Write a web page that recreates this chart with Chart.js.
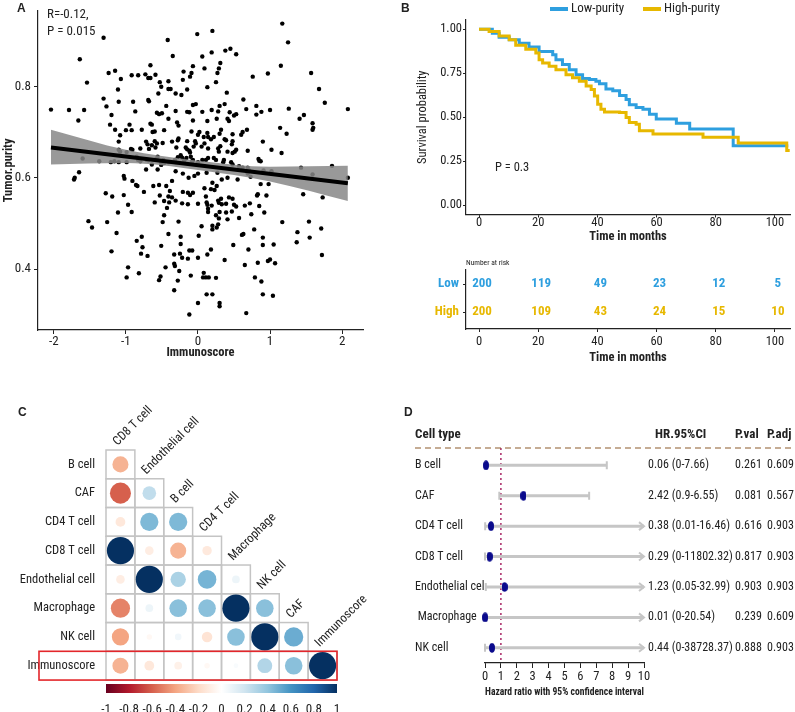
<!DOCTYPE html>
<html>
<head>
<meta charset="utf-8">
<script src="https://cdn.jsdelivr.net/npm/chart.js@4.4.1/dist/chart.umd.min.js"></script>
<style>
  html, body { margin: 0; padding: 0; background: #fff; }
  #wrap { position: relative; width: 795px; height: 712px; overflow: hidden; background: #fff; }
  canvas { position: absolute; }
</style>
</head>
<body>
<div id="wrap">
  <canvas id="panelA" width="380" height="365" style="left:0;top:0;width:380px;height:365px"></canvas>
  <canvas id="panelB" width="395" height="250" style="left:400px;top:0;width:395px;height:250px"></canvas>
  <canvas id="panelRisk" width="395" height="125" style="left:400px;top:255px;width:395px;height:125px"></canvas>
  <canvas id="panelC" width="400" height="332" style="left:0;top:380px;width:400px;height:332px"></canvas>
  <canvas id="panelD" width="395" height="332" style="left:400px;top:380px;width:395px;height:332px"></canvas>
</div>
<script>
// ---- Panel A: immunoscore vs tumor purity ----
const scatterPoints = [
  [1.17,.937],[0.20,.921],[-0.01,.914],[-1.31,.906],[-0.42,.901],[1.25,.896],[0.45,.882],[0.38,.878],[0.19,.874],[0.53,.870],
  [0.06,.865],[-0.35,.866],[-1.64,.859],[0.31,.851],[-0.07,.844],[0.09,.839],[1.15,.845],[-0.66,.846],[0.29,.839],[-1.15,.834],
  [-1.24,.829],[-0.73,.826],[-0.59,.825],[-0.20,.832],[-0.09,.829],[0.27,.829],[1.57,.829],[0.97,.828],[0.76,.821],[-0.92,.824],
  [-0.83,.824],[-1.07,.816],[-0.69,.818],[-0.66,.818],[-0.11,.821],[-1.54,.808],[-0.53,.809],[-0.41,.811],[-0.21,.814],[0.25,.809],
  [0.13,.798],[-0.51,.799],[-0.41,.794],[-0.38,.794],[0.40,.786],[1.68,.794],[-1.11,.793],[-0.15,.793],[-0.31,.784],[-0.55,.784],
  [-0.23,.781],[-1.31,.773],[-0.69,.770],[-0.68,.767],[0.63,.771],[1.76,.764],[-0.90,.766],[-1.10,.766],[-2.04,.749],[-1.79,.748],
  [-1.58,.748],[2.08,.750],[1.26,.751],[-1.27,.756],[-0.44,.757],[-0.07,.759],[-0.03,.761],[0.30,.757],[0.37,.761],[0.81,.757],
  [0.67,.750],[-0.87,.745],[-0.57,.742],[-0.54,.739],[-0.50,.741],[-0.31,.746],[-0.15,.744],[-0.12,.743],[0.06,.744],[0.19,.748],
  [0.28,.745],[0.44,.743],[0.53,.739],[0.88,.744],[1.00,.748],[-1.20,.737],[-1.66,.725],[-0.41,.729],[-0.29,.721],[-0.07,.725],
  [0.13,.724],[0.26,.729],[0.41,.729],[0.43,.724],[0.50,.736],[0.81,.738],[1.41,.729],[1.47,.737],[1.59,.719],[1.60,.709],
  [1.59,.705],[1.14,.709],[-1.22,.716],[-0.95,.716],[-0.66,.718],[-0.64,.716],[-0.47,.704],[-0.63,.700],[-0.60,.701],[-0.92,.704],
  [-1.15,.705],[-0.78,.705],[-1.08,.693],[-1.00,.704],[-0.27,.714],[-0.09,.701],[0.02,.700],[0.00,.694],[0.13,.698],[0.14,.689],
  [0.08,.689],[0.22,.689],[0.30,.696],[0.32,.705],[0.48,.695],[0.62,.700],[0.68,.705],[0.60,.694],[0.90,.679],[0.39,.682],
  [0.37,.684],[0.18,.684],[-0.04,.680],[-0.03,.675],[-0.28,.682],[-0.27,.686],[-0.15,.680],[1.23,.696],[-0.60,.680],[-0.57,.675],
  [-0.64,.671],[-1.10,.679],[-0.70,.673],[-0.72,.679],[-0.49,.676],[-0.36,.679],[0.09,.675],[0.05,.668],[0.31,.669],[0.28,.664],
  [0.48,.680],[0.47,.673],[0.53,.661],[0.51,.657],[0.69,.659],[1.02,.661],[1.16,.654],[-0.91,.661],[-0.93,.663],[-0.80,.664],
  [-0.68,.663],[-0.59,.666],[-0.30,.666],[-0.17,.666],[-0.15,.662],[-0.12,.659],[-0.11,.655],[-0.06,.668],[0.14,.664],[0.29,.657],
  [0.41,.657],[0.48,.654],[-1.60,.642],[-1.37,.636],[-1.16,.636],[-1.10,.634],[-1.21,.634],[-1.10,.661],[-1.08,.657],[-0.99,.656],
  [-0.99,.634],[-0.83,.639],[-0.80,.636],[-0.71,.639],[-0.69,.638],[-0.58,.641],[-0.56,.646],[-0.48,.639],[-0.47,.632],[-0.51,.634],
  [-0.41,.634],[-0.32,.639],[-0.31,.634],[-0.28,.645],[-0.22,.644],[-0.24,.649],[-0.16,.643],[-0.19,.638],[-0.10,.646],[-0.07,.639],
  [-0.08,.636],[0.00,.634],[0.00,.629],[0.06,.639],[0.11,.639],[0.14,.643],[0.22,.643],[0.25,.639],[0.36,.639],[0.35,.634],
  [0.46,.634],[0.48,.629],[0.57,.625],[0.62,.622],[0.69,.622],[0.71,.616],[0.84,.641],[0.85,.637],[0.87,.636],[0.91,.616],
  [1.02,.614],[1.43,.622],[1.86,.626],[2.08,.600],[1.59,.607],[-0.72,.618],[-0.64,.629],[-0.56,.618],[-0.51,.628],[-0.85,.646],
  [-1.71,.600],[-1.72,.596],[-1.65,.612],[-0.86,.584],[-0.84,.582],[-0.62,.582],[-0.44,.582],[-0.36,.593],[-0.31,.614],[-0.21,.609],
  [-0.13,.600],[-0.05,.604],[0.00,.609],[0.12,.611],[0.27,.611],[0.20,.589],[0.26,.582],[0.33,.596],[0.41,.600],[0.55,.596],
  [0.69,.609],[0.73,.602],[0.87,.586],[0.98,.586],[-0.91,.593],[-1.03,.604],[-1.02,.598],[-1.28,.566],[-1.19,.559],[-1.03,.562],
  [-0.75,.569],[-0.54,.584],[-0.39,.571],[-0.21,.569],[-0.07,.567],[-0.14,.567],[-0.11,.562],[0.09,.577],[0.18,.575],[0.23,.573],
  [0.11,.559],[0.12,.546],[0.28,.550],[0.29,.545],[0.32,.554],[0.33,.542],[0.43,.557],[0.48,.554],[0.82,.561],[0.83,.564],
  [0.95,.561],[1.46,.564],[1.73,.557],[-0.53,.561],[-0.41,.559],[-0.36,.557],[-0.31,.550],[-0.47,.549],[-0.40,.546],[-0.60,.546],
  [-0.22,.544],[-0.14,.542],[0.00,.543],[0.13,.541],[0.19,.539],[0.39,.543],[0.50,.541],[0.53,.537],[0.65,.539],[0.72,.544],
  [0.85,.538],[0.74,.520],[0.47,.526],[0.30,.525],[0.39,.524],[0.57,.512],[0.92,.524],[0.25,.518],[0.29,.511],[0.14,.532],
  [0.14,.525],[-0.43,.534],[-0.47,.518],[-0.49,.503],[-0.27,.504],[-0.97,.541],[-1.11,.524],[-0.92,.525],[-1.52,.505],[-1.47,.491],
  [-1.26,.503],[-1.13,.479],[0.05,.494],[0.20,.487],[0.20,.495],[0.26,.491],[0.28,.498],[0.41,.509],[0.61,.475],[0.63,.477],
  [0.78,.487],[1.17,.503],[1.54,.504],[1.38,.481],[1.37,.459],[1.55,.469],[1.71,.489],[-0.41,.477],[0.01,.473],[-0.78,.471],
  [-0.85,.462],[-0.77,.448],[-0.51,.451],[-0.24,.471],[-0.24,.455],[0.49,.453],[0.90,.469],[0.90,.453],[1.05,.454],[-1.20,.439],
  [-0.79,.434],[-0.70,.429],[-0.33,.432],[-0.25,.434],[-0.22,.425],[-0.12,.441],[-0.08,.441],[-0.14,.423],[0.00,.425],[0.18,.443],
  [0.13,.432],[0.70,.443],[0.37,.420],[0.83,.414],[0.97,.418],[1.00,.421],[1.07,.413],[1.72,.431],[-0.45,.404],[-0.97,.404],
  [-0.99,.382],[-0.82,.391],[-0.33,.412],[-0.32,.407],[-0.26,.396],[-0.10,.386],[0.08,.392],[0.07,.382],[0.11,.382],[0.15,.382],
  [0.25,.381],[0.65,.409],[0.79,.382],[0.88,.373],[-0.52,.384],[-0.54,.376],[-0.28,.375],[-0.33,.354],[0.12,.345],[0.20,.345],
  [0.90,.345],[1.04,.342],[0.00,.326],[0.30,.326],[0.30,.319],[-0.12,.301],[0.67,.304]
];
const fitX = [-2.04, 2.08];
const fitY = [0.666, 0.588];
const bandX = [-2.04, -1, 0, 1, 2.08];
const bandLow = [0.629, 0.632, 0.617, 0.592, 0.549];
const bandHigh = [0.705, 0.661, 0.637, 0.624, 0.626];
const ticksA_x = [-2, -1, 0, 1, 2];
const ticksA_y = [0.4, 0.6, 0.8];

// ---- Panel B: Kaplan-Meier ----
const lowTimes = [0, 4.5, 6.8, 10.2, 13.6, 16.9, 20.3, 24.9, 26.0, 28.2, 30.5, 32.8, 35.0, 37.3, 39.5, 40.7, 42.9, 45.2, 47.5, 49.7, 50.8, 53.1, 55.4, 57.6, 59.9, 66.7, 71.2, 85.9, 104.5];
const lowSurv = [1.0, 0.977, 0.955, 0.94, 0.92, 0.90, 0.874, 0.855, 0.827, 0.80, 0.77, 0.742, 0.72, 0.714, 0.705, 0.69, 0.66, 0.65, 0.624, 0.60, 0.57, 0.555, 0.545, 0.517, 0.49, 0.465, 0.432, 0.338, 0.338];
const highTimes = [0, 3.4, 6.8, 10.2, 12.4, 15.8, 19.2, 20.3, 21.5, 23.7, 26.0, 29.4, 31.6, 33.9, 36.2, 37.9, 39.0, 40.1, 41.2, 42.4, 47.5, 49.7, 50.8, 53.1, 54.2, 58.8, 75.7, 87.6, 104.0, 105.0];
const highSurv = [1.0, 0.987, 0.962, 0.94, 0.91, 0.887, 0.865, 0.827, 0.808, 0.79, 0.77, 0.742, 0.724, 0.705, 0.677, 0.658, 0.62, 0.573, 0.545, 0.53, 0.526, 0.498, 0.47, 0.46, 0.423, 0.404, 0.385, 0.353, 0.31, 0.31];
const groupNames = ['Low-purity', 'High-purity'];
const groupColors = ['#2E9FDF', '#E7B800'];
const timeTicks = [0, 20, 40, 60, 80, 100];
const survTicks = [0, 0.25, 0.5, 0.75, 1];
const riskRows = ['Low', 'High'];
const lowRisk = [200, 119, 49, 23, 12, 5];
const highRisk = [200, 109, 43, 24, 15, 10];

// ---- Panel C: correlation matrix (lower triangle) ----
const rowLabels = ['B cell', 'CAF', 'CD4 T cell', 'CD8 T cell', 'Endothelial cell', 'Macrophage', 'NK cell', 'Immunoscore'];
const colLabels = ['CD8 T cell', 'Endothelial cell', 'B cell', 'CD4 T cell', 'Macrophage', 'NK cell', 'CAF', 'Immunoscore'];
const corrRows = [
  [-0.35],
  [-0.6, 0.25],
  [-0.13, 0.45, 0.45],
  [1, -0.10, -0.35, -0.12],
  [-0.10, 1, 0.32, 0.47, 0.08],
  [-0.50, 0.08, 0.42, 0.42, 1, 0.42],
  [-0.40, -0.04, 0.06, -0.15, 0.42, 1, 0.50],
  [-0.35, -0.13, -0.08, -0.04, 0.03, 0.30, 0.42, 1]
];
const colorbarTicks = [-1, -0.8, -0.6, -0.4, -0.2, 0, 0.2, 0.4, 0.6, 0.8, 1];
const rdbuStops = ['#67001F', '#B2182B', '#D6604D', '#F4A582', '#FDDBC7', '#FFFFFF', '#D1E5F0', '#92C5DE', '#4393C3', '#2166AC', '#053061'];

// ---- Panel D: forest plot ----
const cellTypes = ['B cell', 'CAF', 'CD4 T cell', 'CD8 T cell', 'Endothelial cell', ' Macrophage', 'NK cell'];
const hr = [0.06, 2.42, 0.38, 0.29, 1.23, 0.01, 0.44];
const ciLow = [0, 0.9, 0.01, 0, 0.05, 0, 0];
const ciHigh = [7.66, 6.55, 16.46, 11802.32, 32.99, 20.54, 38728.37];
const pVal = ['0.261', '0.081', '0.616', '0.817', '0.903', '0.239', '0.888'];
const pAdj = ['0.609', '0.567', '0.903', '0.903', '0.903', '0.609', '0.903'];
const hrTicks = [0, 1, 2, 3, 4, 5, 6, 7, 8, 9, 10];
const hrMax = 10;

// pick a condensed face if one is installed, otherwise shrink a regular one
function pickFont() {
  const c = document.createElement('canvas').getContext('2d');
  const sample = 'Endothelial cell 0.1234567890';
  const w = f => { c.font = f; return c.measureText(sample).width; };
  const base = w('12px monospace');
  const named = ['Liberation Sans Narrow', 'Arial Narrow', 'Nimbus Sans Narrow', 'Roboto Condensed', 'Noto Sans Condensed', 'Open Sans Condensed', 'DejaVu Sans Condensed'];
  for (const n of named) {
    if (Math.abs(w(`12px "${n}", monospace`) - base) > 0.5) return { family: `"${n}", "Liberation Sans", sans-serif`, stretch: '', scale: n.startsWith('DejaVu') ? 0.92 : 1 };
  }
  for (const n of ['Liberation Sans', 'Noto Sans', 'Open Sans']) {
    const plain = w(`12px "${n}", monospace`);
    const cond = w(`condensed 12px "${n}", monospace`);
    if (cond < plain * 0.9) return { family: `"${n}", sans-serif`, stretch: 'condensed', scale: n === 'Liberation Sans' ? 1 : 0.95 };
  }
  return { family: '"Liberation Sans", Arial, sans-serif', stretch: '', scale: 0.84 };
}
const FONT = pickFont();
const F = (size, bold) => {
  const weight = [FONT.stretch, bold ? 'bold' : ''].filter(Boolean).join(' ');
  return weight ? { size: size * FONT.scale, weight } : { size: size * FONT.scale };
};
const LETTER_FONT = '"Liberation Sans", Arial, sans-serif';
const INK = '#222';
Chart.defaults.font.family = FONT.family;
Chart.defaults.color = INK;
Chart.defaults.animation = false;
Chart.defaults.responsive = false;
Chart.defaults.plugins.legend.display = false;
Chart.defaults.plugins.tooltip.enabled = false;

function fixTicks(values) {
  return scale => { scale.ticks = values.map(v => ({ value: v })); };
}

function drawText(ctx, str, x, y, o = {}) {
  const f = o.family ? { size: o.size || 12, weight: o.weight } : F(o.size || 12, o.weight === 'bold');
  ctx.save();
  ctx.font = `${f.weight || 'normal'} ${f.size}px ${o.family || FONT.family}`;
  ctx.fillStyle = o.color || INK;
  ctx.textAlign = o.align || 'left';
  ctx.textBaseline = o.baseline || 'middle';
  if (o.rotate) {
    ctx.translate(x, y);
    ctx.rotate(o.rotate);
    ctx.fillText(str, 0, 0);
  } else {
    ctx.fillText(str, x, y);
  }
  ctx.restore();
}

function hexToRgb(h) {
  return [1, 3, 5].map(i => parseInt(h.slice(i, i + 2), 16));
}
function rdbu(v) {
  const t = (v + 1) / 2 * (rdbuStops.length - 1);
  const i = Math.max(0, Math.min(Math.floor(t), rdbuStops.length - 2));
  const f = t - i;
  const a = hexToRgb(rdbuStops[i]), b = hexToRgb(rdbuStops[i + 1]);
  const c = a.map((x, k) => Math.round(x + (b[k] - x) * f));
  return `rgb(${c[0]},${c[1]},${c[2]})`;
}

const axisLine = { display: true, color: INK, width: 1.2 };
const tickMarks = (len) => ({ display: true, drawOnChartArea: false, drawTicks: true, tickLength: len, color: INK, lineWidth: 1 });
const flatTicks = { maxRotation: 0, minRotation: 0, autoSkip: false };

// ================= Panel A =================
new Chart(document.getElementById('panelA'), {
  type: 'scatter',
  data: {
    datasets: [
      {
        type: 'line', order: 0,
        data: fitX.map((x, i) => ({ x, y: fitY[i] })),
        borderColor: '#000', borderWidth: 4, pointRadius: 0
      },
      {
        type: 'line', order: 1,
        data: bandX.map((x, i) => ({ x, y: bandHigh[i] })),
        borderColor: 'transparent', borderWidth: 0, pointRadius: 0,
        cubicInterpolationMode: 'monotone',
        fill: '+1', backgroundColor: 'rgba(135,135,135,0.85)'
      },
      {
        type: 'line', order: 2,
        data: bandX.map((x, i) => ({ x, y: bandLow[i] })),
        borderColor: 'transparent', borderWidth: 0, pointRadius: 0,
        cubicInterpolationMode: 'monotone', fill: false
      },
      {
        order: 3,
        data: scatterPoints.map(([x, y]) => ({ x, y })),
        pointRadius: 2.2, backgroundColor: '#000', borderWidth: 0
      }
    ]
  },
  options: {
    layout: { padding: { top: 3, right: 17, left: 0, bottom: 0 } },
    scales: {
      x: {
        type: 'linear', min: -2.22, max: 2.29,
        afterBuildTicks: fixTicks(ticksA_x),
        afterFit: s => { s.height = 35; },
        ticks: { ...flatTicks, font: F(13), padding: 0, color: INK },
        grid: tickMarks(4), border: axisLine,
        title: { display: true, text: 'Immunoscore', font: F(12.5, true), padding: { top: 0, bottom: 5 }, color: INK }
      },
      y: {
        type: 'linear', min: 0.267, max: 0.965,
        afterBuildTicks: fixTicks(ticksA_y),
        afterFit: s => { s.width = 38; },
        ticks: { ...flatTicks, font: F(13), padding: 3, color: INK },
        grid: tickMarks(4), border: axisLine,
        title: { display: true, text: 'Tumor.purity', font: F(12.5, true), padding: { top: 1, bottom: 0 }, color: INK }
      }
    }
  },
  plugins: [{
    id: 'annotA',
    afterDraw(chart) {
      const ctx = chart.ctx;
      drawText(ctx, 'A', 17, 9, { weight: 'bold', size: 12, family: LETTER_FONT });
      drawText(ctx, 'R=-0.12,', 47, 15, { size: 13 });
      drawText(ctx, 'P = 0.015', 47, 32, { size: 13 });
    }
  }]
});

// ================= Panel B (survival curves) =================
new Chart(document.getElementById('panelB'), {
  type: 'line',
  data: {
    datasets: [
      {
        label: groupNames[1],
        data: highTimes.map((t, i) => ({ x: t, y: highSurv[i] })),
        borderColor: groupColors[1], borderWidth: 3, pointRadius: 0, stepped: true
      },
      {
        label: groupNames[0],
        data: lowTimes.map((t, i) => ({ x: t, y: lowSurv[i] })),
        borderColor: groupColors[0], borderWidth: 3, pointRadius: 0, stepped: true
      }
    ]
  },
  options: {
    layout: { padding: { top: 20, right: 5, left: 0, bottom: 0 } },
    scales: {
      x: {
        type: 'linear', min: -4.4, max: 105.1,
        afterBuildTicks: fixTicks(timeTicks),
        afterFit: s => { s.height = 35.5; },
        ticks: { ...flatTicks, font: F(12.5), padding: -2, color: INK },
        grid: tickMarks(3), border: axisLine,
        title: { display: true, text: 'Time in months', font: F(12.5, true), padding: { top: 0, bottom: 6 }, color: INK }
      },
      y: {
        type: 'linear', min: -0.054, max: 1.053,
        afterBuildTicks: fixTicks(survTicks),
        afterFit: s => { s.width = 66; },
        ticks: { ...flatTicks, font: F(12.5), padding: 1, color: INK, callback: v => Number(v).toFixed(2) },
        grid: tickMarks(3), border: axisLine,
        title: { display: true, text: 'Survival probability', font: F(12.5), padding: { top: 15, bottom: 0 }, color: INK }
      }
    }
  },
  plugins: [{
    id: 'annotB',
    afterDraw(chart) {
      const ctx = chart.ctx;
      drawText(ctx, 'B', 1, 9, { weight: 'bold', size: 12, family: LETTER_FONT });
      // legend built from the group names / colours
      const legendX = [150, 243];
      groupNames.forEach((name, i) => {
        ctx.save();
        ctx.strokeStyle = groupColors[i];
        ctx.lineWidth = 4;
        ctx.beginPath();
        ctx.moveTo(legendX[i], 9);
        ctx.lineTo(legendX[i] + 18, 9);
        ctx.stroke();
        ctx.restore();
        drawText(ctx, name, legendX[i] + 21, 9, { size: 13 });
      });
      drawText(ctx, 'P = 0.3', 95, 168, { size: 12.5 });
    }
  }]
});

// ================= Panel B (number at risk) =================
new Chart(document.getElementById('panelRisk'), {
  type: 'scatter',
  data: {
    datasets: [
      { data: timeTicks.map((t, i) => ({ x: t, y: 1, n: lowRisk[i] })), pointRadius: 0 },
      { data: timeTicks.map((t, i) => ({ x: t, y: 2, n: highRisk[i] })), pointRadius: 0 }
    ]
  },
  options: {
    layout: { padding: { top: 15, right: 5, left: 0, bottom: 0 } },
    scales: {
      x: {
        type: 'linear', min: -4.4, max: 105.1,
        afterBuildTicks: fixTicks(timeTicks),
        afterFit: s => { s.height = 51; },
        ticks: { ...flatTicks, font: F(12.5), padding: 2, color: INK },
        grid: tickMarks(3), border: axisLine,
        title: { display: true, text: 'Time in months', font: F(12.5, true), padding: { top: 0, bottom: 15 }, color: INK }
      },
      y: {
        type: 'linear', min: 0.5, max: 2.6, reverse: true,
        afterBuildTicks: fixTicks([1, 2]),
        afterFit: s => { s.width = 66; },
        ticks: {
          ...flatTicks,
          font: F(13, true), padding: 4,
          color: c => groupColors[c.index] || INK,
          callback: v => riskRows[v - 1]
        },
        grid: tickMarks(3), border: axisLine
      }
    }
  },
  plugins: [{
    id: 'riskText',
    afterDatasetsDraw(chart) {
      const ctx = chart.ctx;
      chart.data.datasets.forEach((ds, d) => {
        chart.getDatasetMeta(d).data.forEach((el, i) => {
          drawText(ctx, String(ds.data[i].n), el.x + 3, el.y, { size: 13, weight: 'bold', color: groupColors[d], align: 'center' });
        });
      });
      drawText(ctx, 'Number at risk', 66, 8, { size: 7.5 });
    }
  }]
});

// ================= Panel C =================
const corrPoints = corrRows.flatMap((row, r) => row.map((v, c) => ({ x: c + 0.5, y: r + 0.5, v })));

new Chart(document.getElementById('panelC'), {
  type: 'scatter',
  data: {
    datasets: [{
      data: corrPoints,
      borderWidth: 0,
      pointBorderWidth: 0,
      pointBackgroundColor: c => (c.raw ? rdbu(c.raw.v) : '#ccc'),
      pointRadius: c => {
        if (!c.raw) return 0;
        const s = c.chart.scales.x;
        const cell = s.getPixelForValue(1) - s.getPixelForValue(0);
        return 0.47 * cell * Math.sqrt(Math.abs(c.raw.v));
      },
      clip: false
    }]
  },
  options: {
    layout: { padding: { top: 70, right: 63, left: 0, bottom: 0 } },
    scales: {
      x: { type: 'linear', min: 0, max: 8, display: false },
      cb: {
        type: 'linear', axis: 'x', position: 'bottom', min: -1, max: 1,
        afterBuildTicks: fixTicks(colorbarTicks),
        afterFit: s => { s.height = 19; },
        ticks: { ...flatTicks, font: F(13), padding: 1, color: INK, callback: v => String(Math.round(v * 10) / 10) },
        grid: { display: false }, border: { display: false }
      },
      y: {
        type: 'linear', min: 0, max: 8.45, reverse: true,
        afterBuildTicks: fixTicks(rowLabels.map((_, i) => i + 0.5)),
        afterFit: s => { s.width = 106; },
        ticks: { ...flatTicks, font: F(12.5), padding: 3, color: INK, callback: v => rowLabels[Math.round(v - 0.5)] },
        grid: { display: false }, border: { display: false }
      }
    }
  },
  plugins: [{
    id: 'corrDecor',
    beforeDatasetsDraw(chart) {
      const { ctx, scales: { x, y } } = chart;
      ctx.save();
      ctx.strokeStyle = '#c4c4c4';
      ctx.lineWidth = 1.5;
      corrRows.forEach((row, r) => {
        row.forEach((_, c) => {
          const x0 = x.getPixelForValue(c), x1 = x.getPixelForValue(c + 1);
          const y0 = y.getPixelForValue(r), y1 = y.getPixelForValue(r + 1);
          ctx.strokeRect(x0, y0, x1 - x0, y1 - y0);
        });
      });
      ctx.restore();
    },
    afterDatasetsDraw(chart) {
      const { ctx, chartArea, scales: { x, y } } = chart;
      // rotated column labels
      colLabels.forEach((lab, j) => {
        drawText(ctx, lab, x.getPixelForValue(j + 0.5) - 3, y.getPixelForValue(j) - 4,
          { size: 12.5, rotate: -Math.PI / 4, baseline: 'alphabetic' });
      });
      // colour bar
      const g = ctx.createLinearGradient(chartArea.left, 0, chartArea.right, 0);
      rdbuStops.forEach((col, i) => g.addColorStop(i / (rdbuStops.length - 1), col));
      ctx.save();
      ctx.fillStyle = g;
      ctx.fillRect(chartArea.left, chartArea.bottom - 9, chartArea.right - chartArea.left, 9);
      // highlight box around the Immunoscore row
      const last = rowLabels.length - 1;
      ctx.strokeStyle = '#e3262b';
      ctx.lineWidth = 1.6;
      const yt = y.getPixelForValue(last), yb = y.getPixelForValue(last + 1);
      ctx.strokeRect(39, yt, x.getPixelForValue(8) - 39, yb - yt);
      ctx.restore();
      drawText(ctx, 'C', 18, 33, { weight: 'bold', size: 12, family: LETTER_FONT });
    }
  }]
});

// ================= Panel D =================
const dot = document.createElement('canvas');
dot.width = 6; dot.height = 10;
(() => {
  const c = dot.getContext('2d');
  c.fillStyle = '#0a0a8c';
  c.beginPath();
  c.ellipse(3, 5, 2.8, 4.6, 0, 0, Math.PI * 2);
  c.fill();
})();

// each interval becomes a segment; a null y breaks the line between rows
const ciSegments = ciLow.flatMap((lo, i) => [
  { x: lo, y: i + 1 },
  { x: Math.min(ciHigh[i], hrMax), y: i + 1 },
  { x: hrMax, y: null }
]);

new Chart(document.getElementById('panelD'), {
  type: 'scatter',
  data: {
    datasets: [
      {
        order: 0,
        data: hr.map((h, i) => ({ x: h, y: i + 1 })),
        pointStyle: dot, pointRadius: 5, clip: false
      },
      {
        order: 1,
        data: ciSegments,
        showLine: true, spanGaps: false, pointRadius: 0,
        borderColor: '#c6c6c6', borderWidth: 3, borderCapStyle: 'butt', clip: false
      }
    ]
  },
  options: {
    layout: { padding: { top: 68, right: 151, left: 15, bottom: 0 } },
    scales: {
      x: {
        type: 'linear', min: 0, max: hrMax,
        afterBuildTicks: fixTicks(hrTicks),
        afterFit: s => { s.height = 49; },
        ticks: { ...flatTicks, font: F(12.5), padding: 1, color: INK },
        grid: tickMarks(5), border: axisLine,
        title: { display: true, text: 'Hazard ratio with 95% confidence interval', font: F(11.5, true), padding: { top: 0, bottom: 13 }, color: INK }
      },
      y: {
        type: 'linear', min: 0.43, max: 7.5, reverse: true, offset: false,
        afterBuildTicks: fixTicks(cellTypes.map((_, i) => i + 1)),
        afterFit: s => { s.width = 70; },
        ticks: { ...flatTicks, font: F(12), crossAlign: 'far', color: INK, callback: v => cellTypes[v - 1] },
        grid: { display: false }, border: { display: false }
      }
    }
  },
  plugins: [{
    id: 'forestDecor',
    beforeDatasetsDraw(chart) {
      const { ctx, chartArea, scales: { x } } = chart;
      ctx.save();
      // reference line at HR = 1
      ctx.strokeStyle = '#a3195b';
      ctx.lineWidth = 1.4;
      ctx.setLineDash([2, 3]);
      ctx.beginPath();
      ctx.moveTo(x.getPixelForValue(1), chartArea.top);
      ctx.lineTo(x.getPixelForValue(1), chartArea.bottom);
      ctx.stroke();
      // header separator
      ctx.strokeStyle = '#8b5a2b';
      ctx.lineWidth = 1.2;
      ctx.setLineDash([6, 4]);
      ctx.beginPath();
      ctx.moveTo(15, chartArea.top);
      ctx.lineTo(395, chartArea.top);
      ctx.stroke();
      ctx.restore();
    },
    afterDatasetsDraw(chart) {
      const { ctx, scales: { x, y } } = chart;
      ctx.save();
      ctx.strokeStyle = '#c6c6c6';
      ctx.lineWidth = 2;
      ciLow.forEach((lo, i) => {
        const py = y.getPixelForValue(i + 1);
        const xl = x.getPixelForValue(lo);
        ctx.beginPath();
        ctx.moveTo(xl, py - 4); ctx.lineTo(xl, py + 4);
        if (ciHigh[i] <= hrMax) {
          const xh = x.getPixelForValue(ciHigh[i]);
          ctx.moveTo(xh, py - 4); ctx.lineTo(xh, py + 4);
        } else {
          const xh = x.getPixelForValue(hrMax);
          ctx.moveTo(xh - 5, py - 4); ctx.lineTo(xh, py); ctx.lineTo(xh - 5, py + 4);
        }
        ctx.stroke();
      });
      ctx.restore();
      // redraw the estimates above the caps
      chart.getDatasetMeta(0).data.forEach(el => ctx.drawImage(dot, el.x - dot.width / 2, el.y - dot.height / 2));
      // text columns
      const hy = y.getPixelForValue(0);
      drawText(ctx, 'Cell type', 15, hy, { size: 13, weight: 'bold' });
      drawText(ctx, 'HR.95%CI', 255, hy, { size: 13, weight: 'bold' });
      drawText(ctx, 'P.val', 335, hy, { size: 13, weight: 'bold' });
      drawText(ctx, 'P.adj', 367, hy, { size: 13, weight: 'bold' });
      hr.forEach((h, i) => {
        const py = y.getPixelForValue(i + 1);
        drawText(ctx, `${h} (${ciLow[i]}-${ciHigh[i]})`, 248, py, { size: 12 });
        drawText(ctx, pVal[i], 335, py, { size: 12 });
        drawText(ctx, pAdj[i], 367, py, { size: 12 });
      });
      drawText(ctx, 'D', 4, 33, { weight: 'bold', size: 12, family: LETTER_FONT });
    }
  }]
});
</script>
</body>
</html>
